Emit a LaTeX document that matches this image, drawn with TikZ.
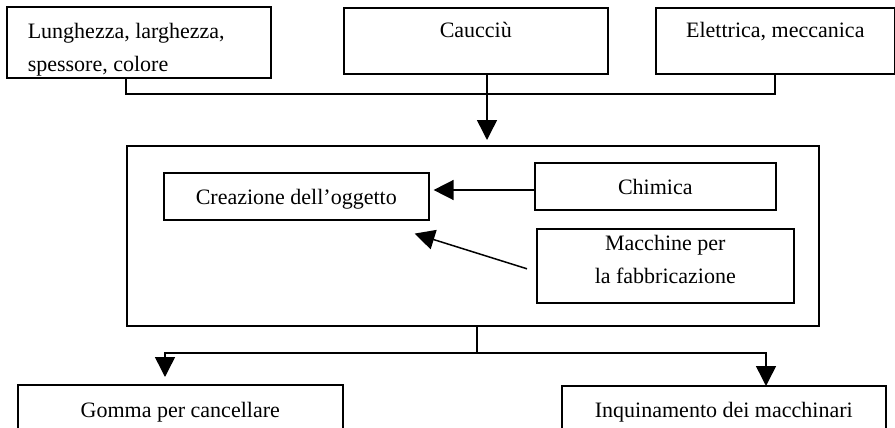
\documentclass[tikz,border=0pt]{standalone}
\usepackage{fontspec}
\setmainfont{Liberation Serif}
\usetikzlibrary{arrows.meta}
\newcommand\tb[5]{\parbox[t][#2][t]{#1}{#4\rule{0pt}{#3}#5}}
\begin{document}
\begin{tikzpicture}[x=1pt,y=-1pt,
  bx/.style={draw, line width=1.6pt, inner sep=0pt, anchor=north west,
    font=\fontsize{22}{33}\selectfont},
  ln/.style={line width=1.5pt},
  arr/.style={line width=1.5pt, -{Triangle[length=20pt,width=20pt]}}]
\useasboundingbox (0,0) rectangle (895,428);
\clip (0,0) rectangle (895,428);
% top boxes
\node[bx] (b1) at (6,6) {\tb{264pt}{71pt}{32pt}{\raggedright\leftskip=21pt}{Lunghezza, larghezza,\\spessore, colore}};
\node[bx] (b2) at (343,7) {\tb{264pt}{66pt}{30pt}{\centering}{Caucciù}};
\node[bx] (b3) at (655,7) {\tb{239pt}{66pt}{30pt}{\centering}{Elettrica, meccanica}};
% big box
\node[draw, line width=1.6pt, inner sep=0pt, anchor=north west,
  minimum width=692pt, minimum height=180pt] (big) at (126,145) {};
\node[bx] (cr) at (163,172) {\tb{265pt}{47pt}{32pt}{\centering}{Creazione dell’oggetto}};
\node[bx] (ch) at (534,162) {\tb{241pt}{47pt}{32pt}{\centering}{Chimica}};
\node[bx] (ma) at (536,228) {\tb{257pt}{74pt}{22pt}{\centering}{Macchine per\\la fabbricazione}};
% bottom boxes
\node[bx] (go) at (17,384) {\tb{325pt}{60pt}{33pt}{\centering}{Gomma per cancellare}};
\node[bx] (iq) at (561,385) {\tb{324pt}{60pt}{32pt}{\centering}{Inquinamento dei macchinari}};
% top connectors
\coordinate (j1) at (126,94);
\coordinate (j3) at (775,94);
\draw[ln] (j1 |- b1.south) -- (j1) -- (j3) -- (j3 |- b3.south);
\coordinate (cx) at (487,0);
\draw[arr, shorten >=5pt] (b2.south -| cx) -- (big.north -| cx);
% inner arrows
\coordinate (k) at (0,190);
\draw[arr, shorten >=4pt] (ch.west |- k) -- (cr.east |- k);
\draw[arr] ([xshift=-9pt,yshift=-3pt]ma.west) -- ([xshift=-15pt,yshift=-13pt]cr.south east);
% bottom connectors
\coordinate (d) at (477,353);
\coordinate (l) at (165,353);
\coordinate (r) at (766,353);
\draw[ln] (big.south -| d) -- (d);
\draw[arr, shorten >=7pt] (r) -- (l) -- (go.north -| l);
\draw[arr, shorten >=-1pt] (l) -- (r) -- (iq.north -| r);
\end{tikzpicture}
\end{document}
